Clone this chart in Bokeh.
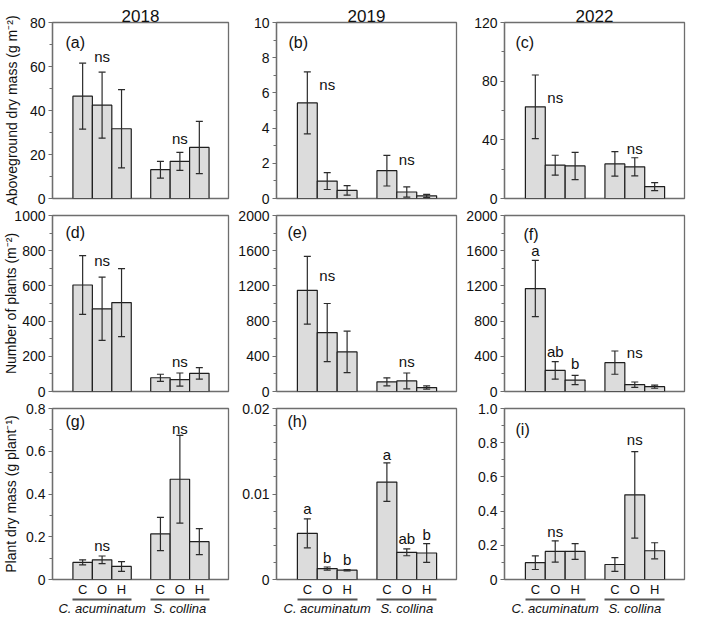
from bokeh.plotting import figure
from bokeh.layouts import gridplot
from bokeh.models import (ColumnDataSource, FixedTicker, LinearAxis, Whisker,
                          TeeHead, Range1d)
from bokeh.core.properties import value
from bokeh.embed import file_html
from bokeh.resources import INLINE

# ---------------- data ----------------
years = ["2018", "2019", "2022"]
species = ["C. acuminatum", "S. collina"]
treatments = ["C", "O", "H"]
row_titles = ["Aboveground dry mass (g m\u207b\u00b2)",
              "Number of plants (m\u207b\u00b2)",
              "Plant dry mass (g plant\u207b\u00b9)"]
panel_letters = ["(a)", "(b)", "(c)", "(d)", "(e)", "(f)", "(g)", "(h)", "(i)"]

# means and standard errors, order: C.acu C,O,H  then S.col C,O,H
mass_2018_mean = [46.5, 42.4, 31.7, 13.1, 16.9, 23.2]
mass_2018_se = [15.0, 15.0, 17.8, 3.8, 4.1, 11.9]
mass_2019_mean = [5.43, 0.99, 0.46, 1.58, 0.37, 0.15]
mass_2019_se = [1.76, 0.48, 0.27, 0.87, 0.29, 0.09]
mass_2022_mean = [62.5, 22.7, 22.2, 23.6, 21.6, 8.1]
mass_2022_se = [21.7, 6.8, 9.3, 8.3, 6.2, 2.7]

plants_2018_mean = [605, 470, 505, 78, 68, 103]
plants_2018_se = [167, 180, 193, 20, 37, 33]
plants_2019_mean = [1150, 670, 450, 110, 120, 45]
plants_2019_se = [385, 330, 235, 45, 90, 18]
plants_2022_mean = [1170, 240, 130, 328, 78, 55]
plants_2022_se = [320, 100, 53, 132, 30, 18]

pmass_2018_mean = [0.080, 0.092, 0.061, 0.213, 0.469, 0.177]
pmass_2018_se = [0.012, 0.018, 0.023, 0.078, 0.205, 0.061]
pmass_2019_mean = [0.0054, 0.00128, 0.00109, 0.01139, 0.00318, 0.0031]
pmass_2019_se = [0.0017, 0.00018, 0.00008, 0.00225, 0.0004, 0.0011]
pmass_2022_mean = [0.0985, 0.164, 0.164, 0.0876, 0.495, 0.168]
pmass_2022_se = [0.040, 0.062, 0.046, 0.040, 0.253, 0.047]

means = [[mass_2018_mean, mass_2019_mean, mass_2022_mean],
         [plants_2018_mean, plants_2019_mean, plants_2022_mean],
         [pmass_2018_mean, pmass_2019_mean, pmass_2022_mean]]
ses = [[mass_2018_se, mass_2019_se, mass_2022_se],
       [plants_2018_se, plants_2019_se, plants_2022_se],
       [pmass_2018_se, pmass_2019_se, pmass_2022_se]]

# significance letters: (text, bar index, y)
sig_a = [("ns", 1, 64.6), ("ns", 4, 27.4)]
sig_b = [("ns", 1, 6.46), ("ns", 4, 2.24)]
sig_c = [("ns", 1, 69.1), ("ns", 4, 33.9)]
sig_d = [("ns", 1, 742), ("ns", 4, 170)]
sig_e = [("ns", 1, 1318), ("ns", 4, 342)]
sig_f = [("a", 0, 1602), ("ab", 1, 453), ("b", 2, 316), ("ns", 4, 442)]
sig_g = [("ns", 1, 0.158), ("ns", 4, 0.708)]
sig_h = [("a", 0, 0.00828), ("b", 1, 0.00259), ("b", 2, 0.0023),
         ("a", 3, 0.01464), ("ab", 4, 0.00482), ("b", 5, 0.00529)]
sig_i = [("ns", 1, 0.283), ("ns", 4, 0.818)]
sigs = [[sig_a, sig_b, sig_c], [sig_d, sig_e, sig_f], [sig_g, sig_h, sig_i]]

# y axes: max, major ticks, tick labels, minor ticks
y_max = [[80, 10, 120], [1000, 2000, 2000], [0.8, 0.02, 1.0]]
y_major = [[[0, 20, 40, 60, 80], [0, 2, 4, 6, 8, 10], [0, 40, 80, 120]],
           [[0, 200, 400, 600, 800, 1000], [0, 400, 800, 1200, 1600, 2000],
            [0, 400, 800, 1200, 1600, 2000]],
           [[0, 0.2, 0.4, 0.6, 0.8], [0, 0.01, 0.02], [0, 0.2, 0.4, 0.6, 0.8, 1.0]]]
y_labels = [[["0", "20", "40", "60", "80"], ["0", "2", "4", "6", "8", "10"],
             ["0", "40", "80", "120"]],
            [["0", "200", "400", "600", "800", "1000"],
             ["0", "400", "800", "1200", "1600", "2000"],
             ["0", "400", "800", "1200", "1600", "2000"]],
            [["0", "0.2", "0.4", "0.6", "0.8"], ["0", "0.01", "0.02"],
             ["0", "0.2", "0.4", "0.6", "0.8", "1.0"]]]
y_minor = [[[10, 30, 50, 70], [1, 3, 5, 7, 9], [20, 60, 100]],
           [[100, 300, 500, 700, 900], [200, 600, 1000, 1400, 1800],
            [200, 600, 1000, 1400, 1800]],
           [[0.1, 0.3, 0.5, 0.7],
            [0.002, 0.004, 0.006, 0.008, 0.012, 0.014, 0.016, 0.018],
            [0.1, 0.3, 0.5, 0.7, 0.9]]]

# ---------------- style / layout ----------------
FONT = "Liberation Sans"
BAR_FILL = "#dcdcdc"
BAR_LINE = "#1e1e1e"
ERR = "#2b2b2b"
FRAME = "#6e6e6e"
TXT = "#111111"
FW = 180
FH = 176
LEFT = [48, 46, 46]
RIGHT = [2, 2, 6]
TOP = [22, 9, 9]
BOTTOM = [8, 8, 34]
LABEL_STANDOFF = [7, -8, 4]
X0, X1 = -0.55, 8.5
# label offsets (px from frame top-left)
lab_off = [[(13, 20), (12, 20), (11, 20)],
           [(13, 17), (11, 17), (19, 19)],
           [(13, 13), (11, 13), (11, 21)]]

# bar positions from group / treatment indices
xpos = [g * 4 + t + 1 for g in range(len(species)) for t in range(len(treatments))]


def bare_axis(ax):
    ax.axis_line_color = None
    ax.major_tick_line_color = None
    ax.minor_tick_line_color = None
    ax.major_tick_out = 0
    ax.major_tick_in = 0
    ax.minor_tick_out = 0
    ax.minor_tick_in = 0


rows = []
for r in range(3):
    row = []
    for c in range(3):
        ymax = y_max[r][c]
        p = figure(width=LEFT[c] + FW + RIGHT[c], height=TOP[r] + FH + BOTTOM[r],
                   x_range=Range1d(X0, X1), y_range=Range1d(0, ymax),
                   output_backend="svg", toolbar_location=None,
                   min_border_left=LEFT[c], min_border_right=RIGHT[c],
                   min_border_top=TOP[r], min_border_bottom=BOTTOM[r])
        p.outline_line_color = FRAME
        p.outline_line_width = 1.3
        p.xgrid.visible = False
        p.ygrid.visible = False
        p.background_fill_color = "white"
        p.border_fill_color = "white"

        if r == 0:
            p.title.text = years[c]
            p.title.align = "center"
            p.title.text_font = FONT
            p.title.text_font_size = "17px"
            p.title.text_font_style = "normal"
            p.title.text_color = TXT
            p.title.standoff = 2

        m = means[r][c]
        s = ses[r][c]
        src = ColumnDataSource(dict(x=xpos, top=m,
                                    upper=[a + b for a, b in zip(m, s)],
                                    lower=[a - b for a, b in zip(m, s)]))
        p.vbar(x="x", top="top", bottom=0, width=1.0, source=src,
               fill_color=BAR_FILL, line_color=BAR_LINE, line_width=1.2)
        w = Whisker(base="x", upper="upper", lower="lower", source=src,
                    line_color=ERR, line_width=1.2, level="overlay",
                    upper_head=TeeHead(size=7, line_color=ERR, line_width=1.2),
                    lower_head=TeeHead(size=7, line_color=ERR, line_width=1.2))
        p.add_layout(w)

        # significance texts
        sg = sigs[r][c]
        p.text(x=[xpos[i] for _, i, _ in sg], y=[y for _, _, y in sg],
               text=[t for t, _, _ in sg], text_font=value(FONT),
               text_font_size="15px", text_align="center",
               text_baseline="middle", text_color=TXT)
        # panel letter
        ox, oy = lab_off[r][c]
        p.text(x=[X0], y=[ymax], text=[panel_letters[r * 3 + c]],
               x_offset=ox, y_offset=oy, text_font=value(FONT),
               text_font_size="16px", text_align="left",
               text_baseline="middle", text_color=TXT)

        # y axis
        ya = p.yaxis[0]
        ya.ticker = FixedTicker(ticks=y_major[r][c], minor_ticks=y_minor[r][c])
        ya.major_label_overrides = {t: l for t, l in zip(y_major[r][c], y_labels[r][c])}
        ya.major_label_text_font = FONT
        ya.major_label_text_font_size = "14px"
        ya.major_label_text_color = TXT
        ya.major_label_standoff = 3
        ya.axis_line_color = FRAME
        ya.axis_line_width = 1.3
        ya.major_tick_line_color = FRAME
        ya.minor_tick_line_color = FRAME
        ya.major_tick_in = 0
        ya.major_tick_out = 4
        ya.minor_tick_in = 0
        ya.minor_tick_out = 3
        if c == 0:
            ya.axis_label = row_titles[r]
            ya.axis_label_text_font = FONT
            ya.axis_label_text_font_size = "14px"
            ya.axis_label_text_font_style = "normal"
            ya.axis_label_text_color = TXT
            ya.axis_label_standoff = LABEL_STANDOFF[r]

        xa = p.xaxis[0]
        if r < 2:
            xa.visible = False
        else:
            xa.ticker = FixedTicker(ticks=xpos, minor_ticks=[])
            xa.major_label_overrides = {x: treatments[i % 3] for i, x in enumerate(xpos)}
            xa.major_label_text_font = FONT
            xa.major_label_text_font_size = "13px"
            xa.major_label_text_color = TXT
            xa.major_label_standoff = 2
            bare_axis(xa)
            centers = [g * 4 + 2 for g in range(len(species))]
            # underline under each species group: bounded, label-less axis lines
            for g in range(len(species)):
                la = LinearAxis(ticker=FixedTicker(ticks=[centers[g]], minor_ticks=[]),
                                bounds=(g * 4 + 0.5, g * 4 + 3.5),
                                major_label_overrides={centers[g]: ""})
                bare_axis(la)
                la.axis_line_color = "#555555"
                la.axis_line_width = 2
                la.major_label_text_font_size = "0px"
                la.major_label_standoff = 0
                p.add_layout(la, "below")
            sp = LinearAxis(ticker=FixedTicker(ticks=centers, minor_ticks=[]),
                            major_label_overrides={x: species[i] for i, x in enumerate(centers)})
            sp.major_label_text_font = FONT
            sp.major_label_text_font_size = "13px"
            sp.major_label_text_font_style = "italic"
            sp.major_label_text_color = TXT
            sp.major_label_standoff = 1
            bare_axis(sp)
            p.add_layout(sp, "below")
        row.append(p)
    rows.append(row)

grid = gridplot(rows, toolbar_location=None)
open("out.html", "w").write(file_html(grid, INLINE))
